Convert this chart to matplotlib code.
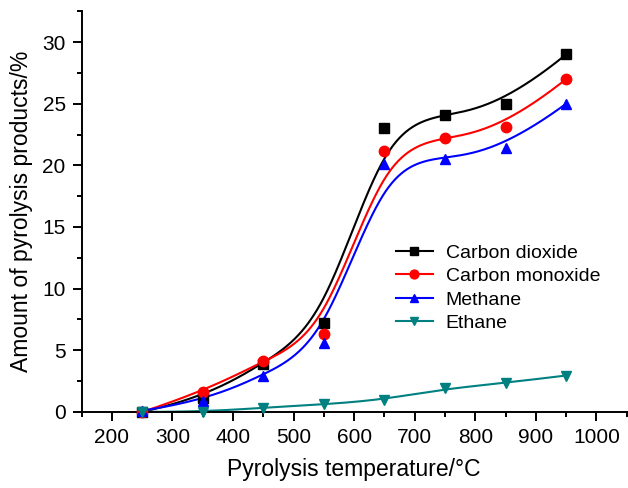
import numpy as np
import matplotlib
matplotlib.use('Agg')
import matplotlib.pyplot as plt
from matplotlib.lines import Line2D
from matplotlib.ticker import MultipleLocator

plt.rcParams['font.family'] = ['Liberation Sans', 'DejaVu Sans']

# pyrolysis temperature (degC) and yields (%)
temp = [250, 350, 450, 550, 650, 750, 850, 950]
co2 = [0.0, 1.1, 3.9, 7.2, 23.0, 24.1, 25.0, 29.0]
co = [0.0, 1.6, 4.15, 6.3, 21.2, 22.2, 23.1, 27.0]
ch4 = [0.1, 0.85, 2.95, 5.55, 20.1, 20.55, 21.4, 25.0]
c2h6 = [0.0, 0.0, 0.35, 0.6, 1.0, 1.9, 2.35, 2.95]

names = ['Carbon dioxide', 'Carbon monoxide', 'Methane', 'Ethane']
colors = ['black', 'red', 'blue', '#008080']
markers = ['s', 'o', '^', 'v']
msizes = [6.5, 7.5, 7.5, 7.5]


def bspline(px, py, k=3, num=400):
    # clamped uniform B-spline using the data points as control points
    n = len(px)
    inner = np.arange(1, n - k)
    knots = np.concatenate([np.zeros(k + 1), inner, np.full(k + 1, n - k)]).astype(float)
    t = np.linspace(0, n - k, num)
    t[-1] -= 1e-9
    N = np.zeros((num, len(knots) - 1))
    for i in range(len(knots) - 1):
        N[:, i] = (t >= knots[i]) & (t < knots[i + 1])
    for d in range(1, k + 1):
        Nn = np.zeros((num, len(knots) - 1 - d))
        for i in range(len(knots) - 1 - d):
            a = knots[i + d] - knots[i]
            b = knots[i + d + 1] - knots[i + 1]
            left = (t - knots[i]) / a * N[:, i] if a > 0 else 0
            right = (knots[i + d + 1] - t) / b * N[:, i + 1] if b > 0 else 0
            Nn[:, i] = left + right
        N = Nn
    return N @ np.asarray(px, float), N @ np.asarray(py, float)


fig = plt.figure(figsize=(6.28, 4.88), dpi=100)
ax = fig.add_axes([0.130, 0.156, 0.868, 0.821])

handles = []
for y, name, c, m, ms in zip([co2, co, ch4, c2h6], names, colors, markers, msizes):
    sx, sy = bspline(temp, y)
    ax.plot(sx, sy, color=c, lw=1.5, zorder=2)
    ax.plot(temp, y, ls='none', marker=m, ms=ms, color=c, mec=c, zorder=3, clip_on=False)
    handles.append(Line2D([], [], color=c, lw=1.5, marker=m, ms=ms * 0.85, label=name))

ax.set_xlim(150, 1050)
ax.set_ylim(0, 32.5)
ax.xaxis.set_major_locator(MultipleLocator(100))
ax.xaxis.set_minor_locator(MultipleLocator(50))
ax.yaxis.set_major_locator(MultipleLocator(5))
ax.yaxis.set_minor_locator(MultipleLocator(2.5))
ax.set_xticks([200, 300, 400, 500, 600, 700, 800, 900, 1000])

for side in ['top', 'right']:
    ax.spines[side].set_visible(False)
for side in ['left', 'bottom']:
    ax.spines[side].set_linewidth(1.4)

ax.tick_params(which='major', direction='out', length=6.5, width=1.4, labelsize=15, pad=5)
ax.tick_params(which='minor', direction='out', length=3.5, width=1.4)

ax.set_xlabel('Pyrolysis temperature/\u00b0C', fontsize=16.5, labelpad=8)
ax.set_ylabel('Amount of pyrolysis products/%', fontsize=16.5, labelpad=7)

ax.legend(handles=handles, loc='center left', bbox_to_anchor=(0.562, 0.309), frameon=False,
          fontsize=14, handlelength=1.9, handletextpad=0.67, labelspacing=0.3,
          borderaxespad=0)

fig.savefig('out.png', dpi=100)
